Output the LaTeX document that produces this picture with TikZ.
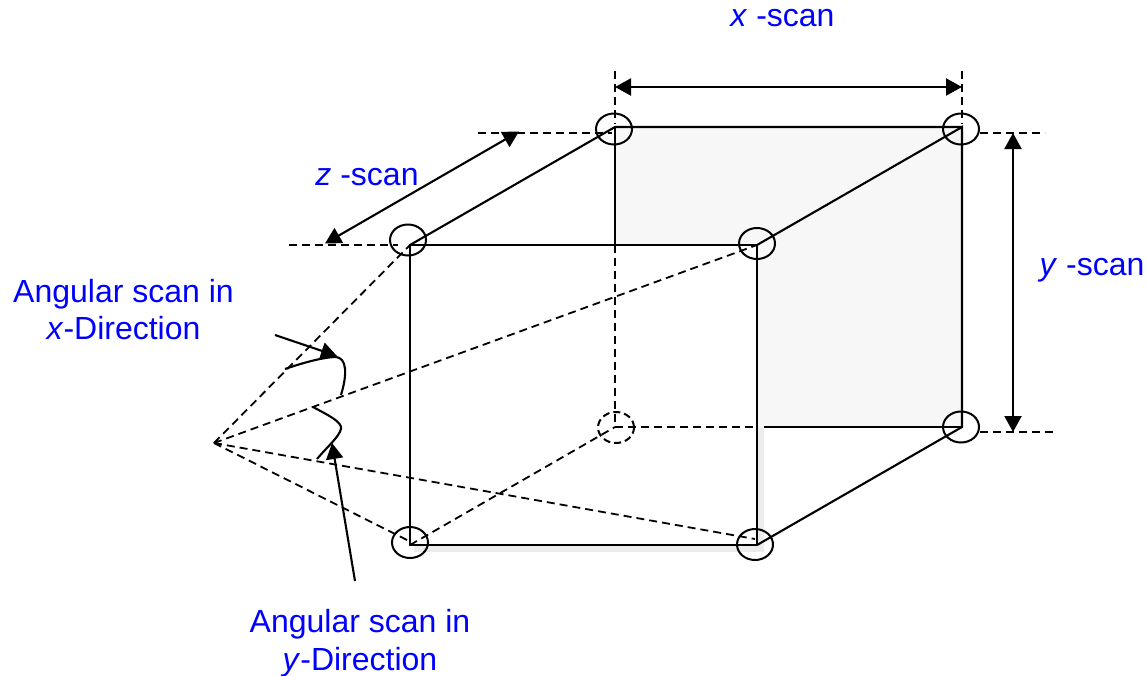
\documentclass[tikz,border=0pt]{standalone}
\usepackage{fontspec}
\setmainfont{Liberation Sans}
\usetikzlibrary{arrows.meta,shapes.geometric}
\definecolor{scanblue}{RGB}{0,0,255}
\definecolor{facegray}{RGB}{247,247,247}
\definecolor{shadowgray}{RGB}{236,236,236}
\tikzset{
  solidline/.style={line width=2.1pt,black},
  dashline/.style={line width=1.8pt,black,dash pattern=on 8pt off 5pt},
  scanarrow/.style={line width=2.1pt,black,-{Triangle[length=16pt,width=17pt]}},
  dblarrow/.style={line width=2.1pt,black,{Triangle[length=16pt,width=17pt]}-{Triangle[length=16pt,width=17pt]}},
  spot/.style={ellipse,draw=black,line width=2pt,minimum width=36pt,minimum height=31pt,inner sep=0pt},
  dashspot/.style={spot,dash pattern=on 7pt off 4pt},
  scanlabel/.style={text=scanblue,font=\fontsize{32}{36}\selectfont,anchor=base,inner sep=0pt},
}
\begin{document}
\begin{tikzpicture}[x=1pt,y=-1pt]
\useasboundingbox (0,0) rectangle (1147,675);
% cube corners
\coordinate (ftl) at (410,245);
\coordinate (ftr) at (757,245);
\coordinate (fbl) at (410,545);
\coordinate (fbr) at (757,545);
\coordinate (btl) at (615,127);
\coordinate (btr) at (962,127);
\coordinate (bbl) at (615,427);
\coordinate (bbr) at (962,427);
\coordinate (apex) at (214,443);
\coordinate (bfs) at (764,427);
\coordinate (backtop) at (615,245);
\coordinate (rayfbl) at (409,541);
\coordinate (rayfbr) at (755,539);
% dimension line ends
\coordinate (xl0) at (615,71);
\coordinate (xl1) at (615,124);
\coordinate (xr0) at (962,71);
\coordinate (xr1) at (962,124);
\coordinate (zt0) at (478,133);
\coordinate (zt1) at (612,133);
\coordinate (zb0) at (289,245);
\coordinate (zb1) at (398,245);
\coordinate (yt0) at (980,133);
\coordinate (yt1) at (1045,133);
\coordinate (yb0) at (980,432);
\coordinate (yb1) at (1054,432);
\coordinate (xa0) at (615,87);
\coordinate (xa1) at (962,87);
\coordinate (ya0) at (1013,133);
\coordinate (ya1) at (1013,432);
\coordinate (za0) at (325,243.5);
\coordinate (za1) at (519,131.5);
\coordinate (aa0) at (275,335);
\coordinate (aa1) at (337,356);
\coordinate (ab0) at (355,581);
\coordinate (ab1) at (332,443);
% faces
\fill[facegray] (btl) rectangle (bbr);
\fill[shadowgray] (414,300) rectangle (764,552);
\fill[facegray] (ftr) rectangle (bfs);
\fill[white] (ftl) rectangle (fbr);
% spots
\node[spot] (s1) at (614,129) {};
\node[spot] (s2) at (408,240) {};
\node[spot] (s3) at (961,129) {};
\node[spot] (s4) at (757,243.5) {};
\node[dashspot] (s5) at (616,427.5) {};
\node[spot] (s6) at (961,427) {};
\node[spot] (s7) at (755,544.5) {};
\node[spot] (s8) at (410,542.5) {};
% hidden edges and rays
\draw[dashline] (backtop) -- (bbl);
\draw[dashline] (bbl) -- (ftr |- bbl);
\draw[dashline] (fbl) -- (bbl);
\draw[dashline] (apex) -- (ftl);
\draw[dashline] (apex) -- (ftr);
\draw[dashline] (apex) -- (rayfbl);
\draw[dashline] (apex) -- (rayfbr);
% extension lines
\draw[dashline] (xl0) -- (xl1);
\draw[dashline] (xr0) -- (xr1);
\draw[dashline] (zt0) -- (zt1);
\draw[dashline] (zb0) -- (zb1);
\draw[dashline] (yt0) -- (yt1);
\draw[dashline] (yb0) -- (yb1);
% visible edges
\draw[solidline,line join=miter] (ftl) -- (ftr) -- (fbr) -- (fbl) -- cycle;
\draw[solidline,line join=miter] (ftr) -- (btr) -- (bbr) -- (fbr);
\draw[solidline] (ftl) -- (btl) -- (btr);
\draw[solidline] (btl) -- (backtop);
\draw[solidline] (bfs) -- (bbr);
% dimension arrows
\draw[dblarrow] (xa0) -- (xa1);
\draw[dblarrow] (ya0) -- (ya1);
\draw[dblarrow] (za0) -- (za1);
\draw[scanarrow] (aa0) -- (aa1);
\draw[scanarrow] (ab0) -- (ab1);
% angular scan curves
\draw[solidline] (285,369) .. controls (305,362) and (325,357) .. (336,357) .. controls (346,358) and (348,372) .. (341,395);
\draw[solidline] (313,407) .. controls (326,414) and (343,422) .. (341,429) .. controls (339,437) and (327,447) .. (317,459);
% labels
\node[scanlabel] (tx) at (782.5,26) {\textit{x} -scan};
\node[scanlabel] (tz) at (367,185) {\textit{z} -scan};
\node[scanlabel] (ty) at (1092,275) {\textit{y} -scan};
\node[scanlabel] (ta1) at (123.5,302) {Angular scan in};
\node[scanlabel] (ta2) at (123.5,339) {\textit{x}-Direction};
\node[scanlabel] (tb1) at (360,632) {Angular scan in};
\node[scanlabel] (tb2) at (360,670) {\textit{y}-Direction};
\end{tikzpicture}
\end{document}
